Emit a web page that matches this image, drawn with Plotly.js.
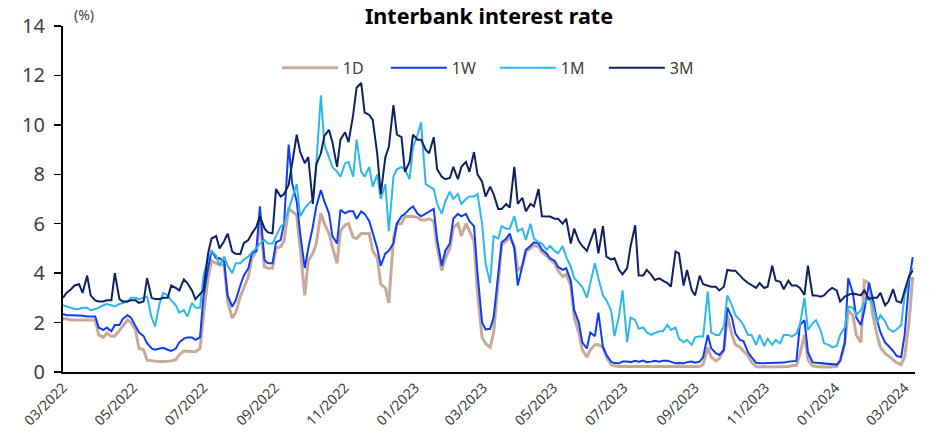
<!DOCTYPE html>
<html>
<head>
<meta charset="utf-8">
<script src="https://cdn.plot.ly/plotly-3.0.1.min.js"></script>
<style>html,body{margin:0;padding:0;background:#fff;}#chart{width:929px;height:443px;}</style>
</head>
<body>
<div id="chart"></div>
<script>
const dates = [
"2022-03-01","2022-03-04","2022-03-08","2022-03-11","2022-03-15","2022-03-18","2022-03-22","2022-03-25","2022-03-29","2022-04-01",
"2022-04-05","2022-04-08","2022-04-12","2022-04-15","2022-04-19","2022-04-22","2022-04-26","2022-04-29",
"2022-05-03","2022-05-06","2022-05-10","2022-05-13","2022-05-17","2022-05-20","2022-05-24","2022-05-27","2022-05-31","2022-06-03",
"2022-06-07","2022-06-10","2022-06-14","2022-06-17","2022-06-21","2022-06-24","2022-06-28","2022-07-01",
"2022-07-05","2022-07-08","2022-07-12","2022-07-15","2022-07-19","2022-07-22","2022-07-26","2022-07-29",
"2022-08-02","2022-08-05","2022-08-09","2022-08-12","2022-08-16","2022-08-19","2022-08-23","2022-08-26","2022-08-30","2022-09-02",
"2022-09-06","2022-09-09","2022-09-13","2022-09-16","2022-09-20","2022-09-23","2022-09-27","2022-09-30",
"2022-10-04","2022-10-07","2022-10-11","2022-10-14","2022-10-18","2022-10-21","2022-10-25","2022-10-28",
"2022-11-01","2022-11-04","2022-11-08","2022-11-11","2022-11-15","2022-11-18","2022-11-22","2022-11-25","2022-11-29","2022-12-02",
"2022-12-06","2022-12-09","2022-12-13","2022-12-16","2022-12-20","2022-12-23","2022-12-27","2022-12-30",
"2023-01-03","2023-01-06","2023-01-10","2023-01-13","2023-01-17","2023-01-20","2023-01-24","2023-01-27","2023-01-31","2023-02-03",
"2023-02-07","2023-02-10","2023-02-14","2023-02-17","2023-02-21","2023-02-24","2023-02-28","2023-03-03",
"2023-03-07","2023-03-10","2023-03-14","2023-03-17","2023-03-21","2023-03-24","2023-03-28","2023-03-31",
"2023-04-04","2023-04-07","2023-04-11","2023-04-14","2023-04-18","2023-04-21","2023-04-25","2023-04-28",
"2023-05-02","2023-05-05","2023-05-09","2023-05-12","2023-05-16","2023-05-19","2023-05-23","2023-05-26","2023-05-30","2023-06-02",
"2023-06-06","2023-06-09","2023-06-13","2023-06-16","2023-06-20","2023-06-23","2023-06-27","2023-06-30",
"2023-07-04","2023-07-07","2023-07-11","2023-07-14","2023-07-18","2023-07-21","2023-07-25","2023-07-28",
"2023-08-01","2023-08-04","2023-08-08","2023-08-11","2023-08-15","2023-08-18","2023-08-22","2023-08-25","2023-08-29","2023-09-01",
"2023-09-05","2023-09-08","2023-09-12","2023-09-15","2023-09-19","2023-09-22","2023-09-26","2023-09-29",
"2023-10-03","2023-10-06","2023-10-10","2023-10-13","2023-10-17","2023-10-20","2023-10-24","2023-10-27","2023-10-31","2023-11-03",
"2023-11-07","2023-11-10","2023-11-14","2023-11-17","2023-11-21","2023-11-24","2023-11-28","2023-12-01",
"2023-12-05","2023-12-08","2023-12-12","2023-12-15","2023-12-19","2023-12-22","2023-12-26","2023-12-29",
"2024-01-02","2024-01-05","2024-01-09","2024-01-12","2024-01-16","2024-01-19","2024-01-23","2024-01-26","2024-01-30","2024-02-02",
"2024-02-06","2024-02-09","2024-02-13","2024-02-16","2024-02-20","2024-02-23","2024-02-27","2024-03-01",
"2024-03-05","2024-03-08"
];

const rate1D = [
2.15,2.15,2.1,2.1,2.1,2.1,2.1,2.1,2.1,1.5,
1.4,1.57,1.45,1.45,1.7,1.9,2.1,2.0,
1.7,0.95,0.9,0.48,0.45,0.42,0.42,0.42,0.42,0.45,
0.5,0.7,0.85,0.85,0.85,0.82,0.95,2.3,
3.8,4.5,4.4,4.35,4.33,2.85,2.18,2.4,
3.05,3.4,3.86,4.6,4.9,6.2,4.26,4.2,4.2,5.0,
5.07,5.3,6.6,6.5,6.35,5.0,3.1,4.5,
4.8,5.2,6.42,6.0,5.61,5.05,4.4,5.7,
5.95,6.0,5.45,5.4,5.6,5.6,5.6,4.9,4.6,3.55,
3.4,2.8,5.4,6.0,6.0,6.29,6.29,6.29,
6.25,6.15,6.15,6.2,6.1,5.07,4.1,4.6,5.0,5.85,
6.0,5.5,6.0,5.7,5.3,3.2,1.4,1.15,
1.0,1.6,3.5,5.15,5.3,5.45,5.1,4.1,
4.3,4.87,5.0,5.12,5.07,4.85,4.7,4.55,
4.4,4.1,3.86,3.95,3.5,2.2,1.6,0.9,0.6,0.9,
1.1,1.1,1.0,0.6,0.3,0.24,0.22,0.22,
0.22,0.22,0.22,0.2,0.22,0.22,0.2,0.22,
0.22,0.2,0.22,0.22,0.2,0.2,0.2,0.22,0.2,0.2,
0.22,0.3,1.0,0.6,0.45,0.55,0.9,2.3,
1.5,1.1,1.0,0.85,0.65,0.4,0.22,0.2,0.22,0.2,
0.2,0.22,0.2,0.2,0.22,0.25,0.27,0.7,
1.5,0.5,0.25,0.22,0.2,0.2,0.2,0.2,
0.22,0.5,1.1,2.5,2.3,1.5,1.2,3.7,3.6,2.4,
1.5,1.0,0.75,0.65,0.5,0.38,0.3,0.6,
2.1,3.85
];

const rate1W = [
2.35,2.3,2.3,2.3,2.3,2.28,2.25,2.25,2.25,1.8,
1.7,1.8,1.65,1.9,1.9,2.15,2.3,2.2,
1.85,1.6,1.45,1.17,0.95,0.9,0.95,0.98,0.9,0.85,
0.95,1.2,1.35,1.4,1.4,1.3,1.4,3.05,
4.2,4.9,4.6,4.6,4.47,3.1,2.64,2.9,
3.5,3.9,4.2,4.8,4.9,6.7,4.53,4.4,4.4,5.25,
5.34,6.0,9.2,7.64,6.9,5.6,4.2,5.0,
5.88,6.7,7.36,6.9,6.42,5.5,5.2,6.56,
6.42,6.5,6.5,6.2,6.5,6.4,6.1,5.6,5.0,4.3,
4.8,4.9,5.2,6.0,6.3,6.4,6.6,6.7,
6.4,6.3,6.4,6.5,6.6,5.34,4.3,4.9,5.2,6.2,
6.4,6.3,6.4,6.1,5.9,4.0,2.0,1.72,
1.75,2.2,3.8,5.25,5.4,5.6,5.0,3.5,
4.3,4.94,5.1,5.25,5.2,4.95,4.8,4.6,
4.5,4.25,4.13,4.2,3.7,2.5,2.0,1.2,0.95,1.6,
1.45,2.4,1.0,0.7,0.42,0.36,0.35,0.42,
0.42,0.4,0.45,0.42,0.46,0.4,0.42,0.45,
0.42,0.46,0.46,0.4,0.35,0.36,0.35,0.4,0.42,0.38,
0.42,0.6,1.5,0.96,0.76,0.69,0.89,2.6,
2.2,1.55,1.3,1.25,0.8,0.6,0.37,0.35,0.35,0.35,
0.35,0.36,0.35,0.38,0.42,0.44,0.45,1.9,
2.1,0.8,0.4,0.37,0.35,0.33,0.32,0.3,
0.3,0.45,1.2,3.8,3.2,2.2,1.9,2.5,3.6,3.05,
2.1,1.6,1.2,1.05,0.85,0.65,0.6,1.5,
3.7,4.65
];

const rate1M = [
2.7,2.65,2.6,2.55,2.55,2.6,2.6,2.5,2.55,2.6,
2.7,2.75,2.7,2.65,2.75,2.8,2.85,3.0,
3.0,2.95,3.0,3.05,2.2,1.85,2.8,3.2,3.1,2.9,
2.7,2.4,2.5,2.24,2.8,2.6,2.6,3.9,
4.6,4.9,4.7,4.3,4.67,4.3,4.0,4.4,
4.4,4.55,4.67,4.85,5.0,5.2,5.34,5.2,5.2,5.5,
5.88,6.0,6.6,7.0,7.6,6.3,6.62,6.8,
6.96,8.4,11.2,9.2,8.72,8.3,8.11,7.9,
8.45,8.5,7.9,9.4,8.1,7.9,8.3,7.5,8.0,7.0,
7.6,5.7,7.9,8.2,8.3,8.2,7.8,9.1,
9.6,10.1,7.6,7.5,7.4,6.8,6.4,6.9,7.3,7.0,
7.2,6.8,7.0,7.1,7.1,7.2,6.0,4.4,
3.6,5.5,5.4,5.9,5.8,5.8,6.3,5.7,
5.8,5.34,6.0,5.4,5.25,5.2,4.95,5.1,
4.9,4.8,5.1,4.67,4.26,3.8,3.6,3.45,3.0,3.6,
4.4,3.8,3.1,2.9,2.5,1.45,2.3,3.3,
1.2,2.2,2.1,1.75,1.8,1.6,1.5,1.57,
1.65,1.65,1.9,1.7,1.8,1.35,1.2,1.3,1.1,1.4,
1.45,1.43,3.25,1.6,1.5,1.5,1.84,3.1,
2.7,2.3,2.1,1.9,1.5,1.5,1.1,1.5,1.05,1.35,
1.1,1.3,1.16,1.5,1.5,1.43,1.55,1.9,
3.0,1.7,1.97,2.1,1.7,1.16,1.1,1.0,
1.05,1.5,1.8,2.64,2.6,2.3,2.5,2.8,3.0,2.78,
2.0,2.3,2.05,1.75,1.63,1.72,1.9,3.1,
3.8,4.2
];

const rate3M = [
3.0,3.2,3.35,3.5,3.55,3.2,3.9,3.1,2.9,2.85,
2.85,2.9,2.9,4.0,2.95,2.85,2.85,2.9,
2.9,2.8,2.85,3.8,3.0,2.95,2.95,3.0,3.0,3.5,
3.4,3.3,3.75,3.6,3.3,2.95,3.15,3.3,
4.8,5.4,5.5,5.0,5.3,5.6,4.87,4.78,
4.77,5.21,5.34,5.6,5.88,6.3,5.81,5.65,5.61,7.4,
7.1,7.2,7.57,8.44,9.6,8.9,8.45,8.7,
6.8,8.4,8.85,9.55,9.8,9.3,8.3,9.4,
9.7,9.3,10.4,11.5,11.7,10.5,10.4,10.2,8.8,7.2,
8.7,9.1,10.8,9.6,9.5,8.1,8.5,9.6,
9.4,9.4,9.0,8.85,9.5,8.2,7.9,7.8,7.85,8.3,
7.8,8.3,8.5,8.1,8.9,8.0,7.7,7.1,
7.5,7.2,6.6,6.6,6.8,6.65,8.3,6.8,
7.05,6.5,6.8,6.7,7.4,6.3,6.29,6.29,
6.2,6.2,6.0,6.2,5.2,5.8,5.3,5.1,4.9,5.27,
5.8,4.8,5.9,4.67,4.55,4.6,4.13,3.95,
4.2,5.1,5.94,3.9,3.9,4.13,3.93,3.72,
3.79,3.7,3.6,3.45,4.87,4.8,3.5,4.13,3.32,3.1,
3.9,3.55,3.5,3.45,3.45,3.3,3.45,4.13,
4.1,4.1,3.9,3.75,3.6,3.5,3.4,3.6,3.4,3.45,
4.3,3.7,3.65,3.35,3.7,3.5,3.5,3.4,
3.12,4.3,3.1,3.1,3.05,3.1,3.3,3.4,
3.3,2.85,3.05,3.12,3.18,3.15,3.1,3.3,2.95,3.0,
3.0,3.2,2.7,2.85,3.35,2.87,2.8,3.3,
3.9,4.1
];

const seriesNames = ["1D","1W","1M","3M"];
const seriesColors = ["#C9A997","#0F3DF5","#2DB7EE","#0E2262"];
const seriesWidths = [3,2,2,2];
const seriesData = [rate1D, rate1W, rate1M, rate3M];

const traces = seriesNames.map((n,i)=>({
  type:"scatter", mode:"lines", name:n, x:dates, y:seriesData[i],
  line:{color:seriesColors[i], width:seriesWidths[i]}, hoverinfo:"skip"
}));

const font = "Noto Sans, Open Sans, sans-serif";
const layout = {
  width:929, height:443,
  margin:{l:63, r:14, t:26, b:71},
  paper_bgcolor:"#fff", plot_bgcolor:"#fff",
  font:{family:font, color:"#404040"},
  title:{text:"<b>Interbank interest rate</b>", font:{size:21.5, color:"#000", family:font},
         x:0.5, xref:"paper", xanchor:"center", y:0.962, yref:"container", yanchor:"middle"},
  showlegend:true,
  legend:{orientation:"h", x:0.251, xanchor:"left", y:0.879, yanchor:"middle",
          font:{size:16, color:"#404040"}, itemwidth:56, entrywidth:38, entrywidthmode:"pixels",
          bgcolor:"rgba(0,0,0,0)", itemclick:false},
  xaxis:{type:"date", range:["2022-03-01","2024-03-10"], tickformat:"%m/%Y", dtick:"M2",
         tick0:"2022-03-01", tickangle:-45, showgrid:false, zeroline:false,
         showline:true, linecolor:"#000", linewidth:2, ticks:"", tickfont:{size:14, color:"#404040"}},
  yaxis:{range:[0,14], dtick:2, showgrid:false, zeroline:false, showline:true,
         linecolor:"#000", linewidth:2, ticks:"outside", ticklen:7, tickwidth:1.5, tickcolor:"#000",
         ticklabelstandoff:5, tickfont:{size:20, color:"#404040"}},
  annotations:[{text:"(%)", xref:"paper", yref:"paper", x:0.011, y:1.0, xanchor:"left", yanchor:"bottom",
                showarrow:false, font:{size:14, color:"#404040"}}]
};

Plotly.newPlot("chart", traces, layout, {staticPlot:true, displayModeBar:false});
</script>
</body>
</html>
